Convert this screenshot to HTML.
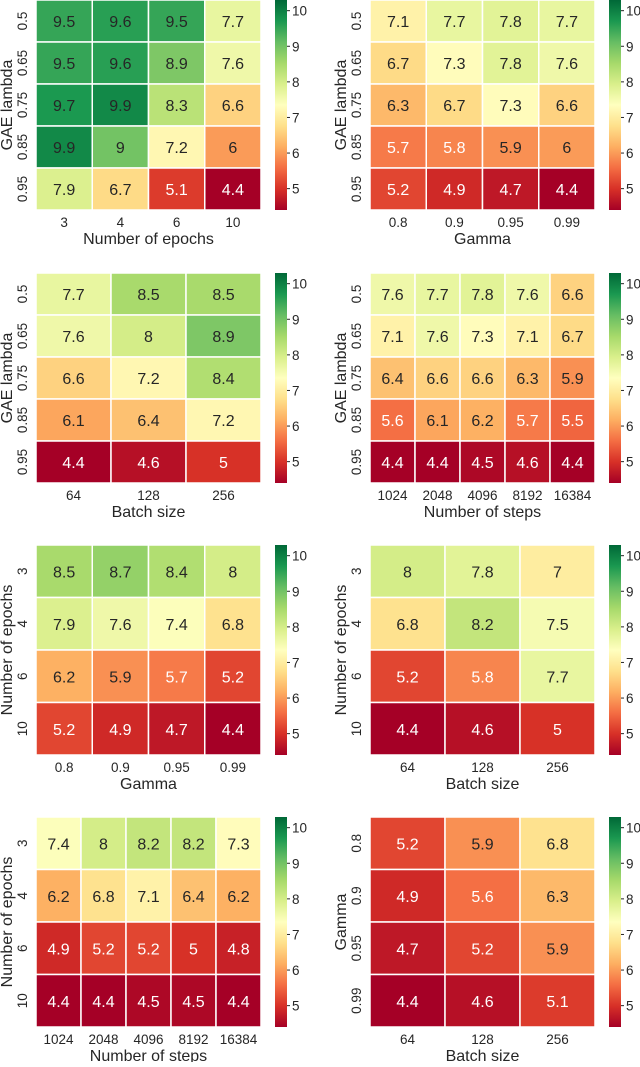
<!DOCTYPE html>
<html><head><meta charset="utf-8">
<style>
body{margin:0;background:#fff;}
svg text{font-family:"Liberation Sans",Arial,sans-serif;}
</style></head>
<body>
<svg id="chart" width="640" height="1062" viewBox="0 0 640 1062" xmlns="http://www.w3.org/2000/svg">
<defs>
<linearGradient id="cbgrad" x1="0" y1="1" x2="0" y2="0">
<stop offset="0" stop-color="#a50026"/><stop offset="0.1" stop-color="#d73027"/><stop offset="0.2" stop-color="#f46d43"/><stop offset="0.3" stop-color="#fdae61"/><stop offset="0.4" stop-color="#fee08b"/><stop offset="0.5" stop-color="#ffffbf"/><stop offset="0.6" stop-color="#d9ef8b"/><stop offset="0.7" stop-color="#a6d96a"/><stop offset="0.8" stop-color="#66bd63"/><stop offset="0.9" stop-color="#1a9850"/><stop offset="1" stop-color="#006837"/>
</linearGradient>
</defs>
</svg>
<script>
const gaeLabels=["0.5","0.65","0.75","0.85","0.95"];
const epochLabels=["3","4","6","10"];
const gammaLabels=["0.8","0.9","0.95","0.99"];
const batchLabels=["64","128","256"];
const stepLabels=["1024","2048","4096","8192","16384"];
const colorbarTicks=[5,6,7,8,9,10];
const vmin=4.4, vmax=10.3;
const p1Values=[[9.5,9.6,9.5,7.7],[9.5,9.6,8.9,7.6],[9.7,9.9,8.3,6.6],[9.9,9,7.2,6],[7.9,6.7,5.1,4.4]];
const p2Values=[[7.1,7.7,7.8,7.7],[6.7,7.3,7.8,7.6],[6.3,6.7,7.3,6.6],[5.7,5.8,5.9,6],[5.2,4.9,4.7,4.4]];
const p3Values=[[7.7,8.5,8.5],[7.6,8,8.9],[6.6,7.2,8.4],[6.1,6.4,7.2],[4.4,4.6,5]];
const p4Values=[[7.6,7.7,7.8,7.6,6.6],[7.1,7.6,7.3,7.1,6.7],[6.4,6.6,6.6,6.3,5.9],[5.6,6.1,6.2,5.7,5.5],[4.4,4.4,4.5,4.6,4.4]];
const p5Values=[[8.5,8.7,8.4,8],[7.9,7.6,7.4,6.8],[6.2,5.9,5.7,5.2],[5.2,4.9,4.7,4.4]];
const p6Values=[[8,7.8,7],[6.8,8.2,7.5],[5.2,5.8,7.7],[4.4,4.6,5]];
const p7Values=[[7.4,8,8.2,8.2,7.3],[6.2,6.8,7.1,6.4,6.2],[4.9,5.2,5.2,5,4.8],[4.4,4.4,4.5,4.5,4.4]];
const p8Values=[[5.2,5.9,6.8],[4.9,5.6,6.3],[4.7,5.2,5.9],[4.4,4.6,5.1]];

const panels=[
 {id:"epochs-vs-gae",col:0,row:0,vals:p1Values,xl:epochLabels,yl:gaeLabels,xt:"Number of epochs",yt:"GAE lambda"},
 {id:"gamma-vs-gae",col:1,row:0,vals:p2Values,xl:gammaLabels,yl:gaeLabels,xt:"Gamma",yt:"GAE lambda"},
 {id:"batch-vs-gae",col:0,row:1,vals:p3Values,xl:batchLabels,yl:gaeLabels,xt:"Batch size",yt:"GAE lambda"},
 {id:"steps-vs-gae",col:1,row:1,vals:p4Values,xl:stepLabels,yl:gaeLabels,xt:"Number of steps",yt:"GAE lambda"},
 {id:"gamma-vs-epochs",col:0,row:2,vals:p5Values,xl:gammaLabels,yl:epochLabels,xt:"Gamma",yt:"Number of epochs"},
 {id:"batch-vs-epochs",col:1,row:2,vals:p6Values,xl:batchLabels,yl:epochLabels,xt:"Batch size",yt:"Number of epochs"},
 {id:"steps-vs-epochs",col:0,row:3,vals:p7Values,xl:stepLabels,yl:epochLabels,xt:"Number of steps",yt:"Number of epochs"},
 {id:"batch-vs-gamma",col:1,row:3,vals:p8Values,xl:batchLabels,yl:gammaLabels,xt:"Batch size",yt:"Gamma"}
];
const stops=["#a50026","#d73027","#f46d43","#fdae61","#fee08b","#ffffbf","#d9ef8b","#a6d96a","#66bd63","#1a9850","#006837"].map(h=>[parseInt(h.slice(1,3),16),parseInt(h.slice(3,5),16),parseInt(h.slice(5,7),16)]);
function cmap(v){let t=(v-vmin)/(vmax-vmin);t=Math.max(0,Math.min(1,t));const p=t*10;const i=Math.min(9,Math.floor(p));const f=p-i;
 return stops[i].map((c,k)=>Math.round(c+(stops[i+1][k]-c)*f));}
function lum(c){const l=c.map(x=>{x/=255;return x<=0.03928?x/12.92:Math.pow((x+0.055)/1.055,2.4);});return 0.2126*l[0]+0.7152*l[1]+0.0722*l[2];}
const NS="http://www.w3.org/2000/svg";
const svg=document.getElementById("chart");
function mk(tag,attrs,parent,txt){const e=document.createElementNS(NS,tag);for(const k in attrs)e.setAttribute(k,attrs[k]);if(txt!==undefined)e.textContent=txt;parent.appendChild(e);return e;}
const colX=[36,370], rowY=[0,273,545,817], HW=225, HH=210;
panels.forEach(p=>{
 const g=mk("g",{},svg);
 
 
 const x0=colX[p.col], y0=rowY[p.row];
 const nr=p.vals.length, nc=p.vals[0].length;
 const cw=HW/nc, ch=HH/nr;
 const xs=j=>x0+j*cw, ys=i=>y0+i*ch;
 p.vals.forEach((r,i)=>r.forEach((v,j)=>{
  const c=cmap(v);
  const rect=mk("rect",{x:xs(j),y:ys(i),width:cw,height:ch,fill:`rgb(${c})`,stroke:"#fff","stroke-width":1.5},g);
  
  
  const dark=(v<=5.8)||lum(c)<0.12;
  const t=mk("text",{x:xs(j)+cw/2,y:ys(i)+ch/2+6,"text-anchor":"middle","font-size":16,fill:dark?"#fff":"#262626"},g,String(v));
  
  
 }));
 p.xl.forEach((l,j)=>{const t=mk("text",{x:xs(j)+cw/2,y:y0+HH+17,"text-anchor":"middle","font-size":13.5,fill:"#262626"},g,l);
  
  });
 p.yl.forEach((l,i)=>{const cx=x0-9, cy=ys(i)+ch/2;const t=mk("text",{x:cx,y:cy,"text-anchor":"middle","font-size":13.5,fill:"#262626",transform:`rotate(-90 ${cx} ${cy})`},g,l);
  
  });
 const xt=mk("text",{x:x0+HW/2,y:y0+HH+34,"text-anchor":"middle","font-size":16,fill:"#262626"},g,p.xt);
 
 
 const ycx=x0-24, ycy=y0+HH/2;
 const yt=mk("text",{x:ycx,y:ycy,"text-anchor":"middle","font-size":16,fill:"#262626",transform:`rotate(-90 ${ycx} ${ycy})`},g,p.yt);
 
 
 const cbx=x0+239;
 const cb=mk("rect",{x:cbx,y:y0,width:12,height:HH,fill:"url(#cbgrad)"},g);
 
 
 colorbarTicks.forEach(v=>{const ty=y0+(vmax-v)/(vmax-vmin)*HH;
  mk("line",{x1:cbx+12,x2:cbx+15,y1:ty,y2:ty,stroke:"#262626","stroke-width":1},g);
  const t=mk("text",{x:cbx+17,y:ty+5,"font-size":13.5,fill:"#262626"},g,String(v));
  
  });
});
</script>
</body></html>
